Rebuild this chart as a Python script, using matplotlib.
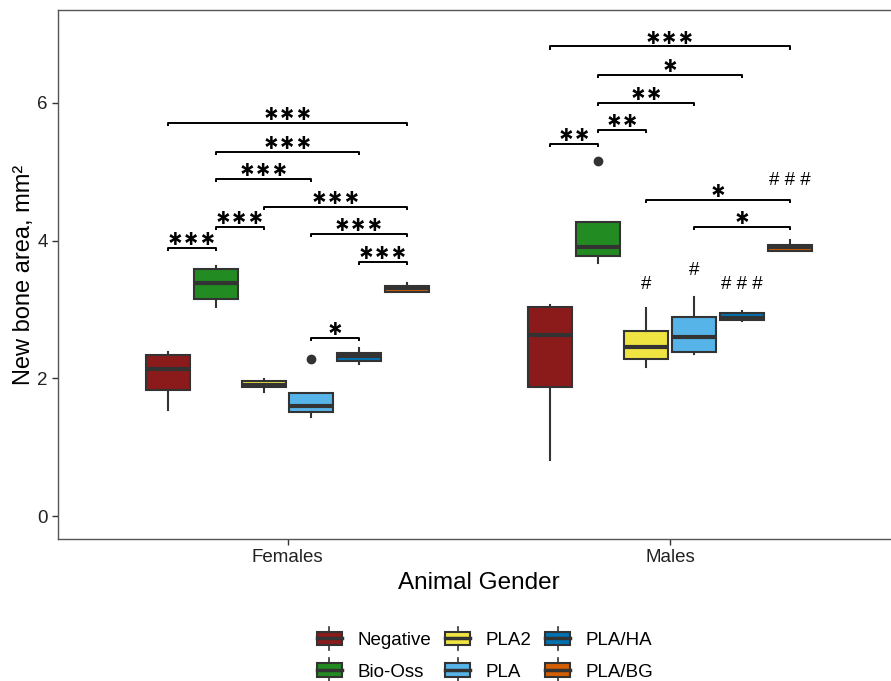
import matplotlib
matplotlib.use("Agg")
import matplotlib.pyplot as plt
from matplotlib.legend_handler import HandlerBase
from matplotlib.patches import Rectangle, Patch
from matplotlib.lines import Line2D

# ---- data -------------------------------------------------------------
genders = ["Females", "Males"]
treatments = ["Negative", "Bio-Oss", "PLA2", "PLA", "PLA/HA", "PLA/BG"]
colors = ["#8B1A1A", "#228B22", "#F0E442", "#56B4E9", "#0072B2", "#D55E00"]

females_min = [1.54, 3.04, 1.80, 1.44, 2.21, 3.25]
females_q1 = [1.83, 3.15, 1.88, 1.51, 2.25, 3.25]
females_med = [2.14, 3.39, 1.91, 1.60, 2.33, 3.31]
females_q3 = [2.34, 3.59, 1.96, 1.79, 2.37, 3.34]
females_max = [2.38, 3.63, 1.99, 1.79, 2.44, 3.39]
females_out = [[], [], [], [2.28], [], []]

males_min = [0.81, 3.68, 2.17, 2.35, 2.83, 3.85]
males_q1 = [1.88, 3.78, 2.28, 2.38, 2.85, 3.85]
males_med = [2.63, 3.91, 2.46, 2.60, 2.88, 3.91]
males_q3 = [3.04, 4.27, 2.69, 2.89, 2.95, 3.94]
males_max = [3.07, 4.27, 3.02, 3.18, 2.98, 4.01]
males_out = [[], [5.15], [], [], [], []]

# significance brackets: (gender index, treatment i, treatment j, height, label)
brackets = [
    (0, 0, 5, 5.71, "***"),
    (0, 1, 4, 5.29, "***"),
    (0, 1, 3, 4.90, "***"),
    (0, 2, 5, 4.49, "***"),
    (0, 1, 2, 4.20, "***"),
    (0, 3, 5, 4.10, "***"),
    (0, 0, 1, 3.90, "***"),
    (0, 4, 5, 3.69, "***"),
    (0, 3, 4, 2.59, "*"),
    (1, 0, 5, 6.82, "***"),
    (1, 1, 4, 6.41, "*"),
    (1, 1, 3, 6.00, "**"),
    (1, 1, 2, 5.61, "**"),
    (1, 0, 1, 5.41, "**"),
    (1, 2, 5, 4.59, "*"),
    (1, 3, 5, 4.20, "*"),
]

# marks versus the matching female group: (gender index, treatment, height, label)
hash_marks = [
    (1, 2, 3.39, "#"),
    (1, 3, 3.60, "#"),
    (1, 4, 3.39, "# # #"),
    (1, 5, 4.90, "# # #"),
]

# ---- layout -----------------------------------------------------------
EDGE = "#333333"
DODGE = 0.75
n = len(treatments)
step = DODGE / n
box_w = step * 0.92


def pos(g, i):
    return (g + 1) + (i - (n - 1) / 2) * step


plt.rcParams["font.family"] = ["Liberation Sans", "DejaVu Sans"]

fig = plt.figure(figsize=(8.91, 6.81), dpi=100)
ax = fig.add_axes([58 / 891, 1 - 539 / 681, (899.5 - 58) / 891, (539 - 10) / 681])

groups = [
    (females_min, females_q1, females_med, females_q3, females_max, females_out),
    (males_min, males_q1, males_med, males_q3, males_max, males_out),
]

for g, (mn, q1, md, q3, mx, out) in enumerate(groups):
    for i in range(n):
        stats = [dict(whislo=mn[i], q1=q1[i], med=md[i], q3=q3[i],
                      whishi=mx[i], fliers=out[i])]
        ax.bxp(stats, positions=[pos(g, i)], widths=box_w, patch_artist=True,
               showcaps=False,
               boxprops=dict(facecolor=colors[i], edgecolor=EDGE, linewidth=1.5),
               medianprops=dict(color=EDGE, linewidth=3, solid_capstyle="butt"),
               whiskerprops=dict(color=EDGE, linewidth=1.5),
               flierprops=dict(marker="o", markerfacecolor=EDGE,
                               markeredgecolor=EDGE, markersize=6))

tick_h = 0.05
for g, i, j, y, lab in brackets:
    x1, x2 = pos(g, i), pos(g, j)
    ax.plot([x1, x1, x2, x2], [y - tick_h, y, y, y - tick_h],
            color="black", linewidth=1.4, solid_capstyle="butt")
    ax.annotate(lab, xy=((x1 + x2) / 2, y), xytext=(0, -4.5),
                textcoords="offset points", ha="center", va="baseline",
                fontsize=21.5, family="Inter", weight="bold", color="black")

for g, i, y, lab in hash_marks:
    ax.annotate(lab, xy=(pos(g, i), y), xytext=(0, -4.8),
                textcoords="offset points", ha="center", va="baseline",
                fontsize=13.5, color="black")

ax.set_xlim(0.4, 2.6)
ax.set_ylim(-0.334, 7.35)
ax.set_xticks([1, 2])
ax.set_xticklabels(genders)
ax.set_yticks([0, 2, 4, 6])
ax.tick_params(axis="both", labelsize=13.5, labelcolor="#222222",
               color="#333333", length=4, width=1)
for s in ax.spines.values():
    s.set_color("#555555")
    s.set_linewidth(1)

ax.set_xlabel("Animal Gender", fontsize=17.5, labelpad=4)
ax.set_ylabel("New bone area, mm²", fontsize=17, labelpad=1.7)


# legend keys drawn as small boxplots
class BoxKey(HandlerBase):
    def create_artists(self, legend, orig_handle, xdescent, ydescent,
                       width, height, fontsize, trans):
        fc = orig_handle.get_facecolor()
        x0, y0 = -xdescent, -ydescent
        bh = height * 0.95
        by = y0 + (height - bh) / 2
        rect = Rectangle((x0, by), width, bh, facecolor=fc, edgecolor=EDGE,
                         linewidth=1.5, transform=trans)
        ym = y0 + height / 2
        med = Line2D([x0, x0 + width], [ym, ym], color=EDGE, linewidth=2.5,
                     transform=trans)
        xc = x0 + width / 2
        w1 = Line2D([xc, xc], [by + bh, by + bh + height * 0.35], color=EDGE,
                    linewidth=1.2, transform=trans)
        w2 = Line2D([xc, xc], [by, by - height * 0.35], color=EDGE,
                    linewidth=1.2, transform=trans)
        return [rect, med, w1, w2]


handles = [Patch(facecolor=c, edgecolor=EDGE) for c in colors]
fig.legend(handles, treatments, handler_map={Patch: BoxKey()},
           loc="center", bbox_to_anchor=(485 / 891, 1 - 656 / 681), ncol=3,
           frameon=False, fontsize=13.5, handlelength=1.35, handleheight=0.8,
           handletextpad=0.8, columnspacing=0.75, labelspacing=0.75)

fig.savefig("out.png", dpi=100)
